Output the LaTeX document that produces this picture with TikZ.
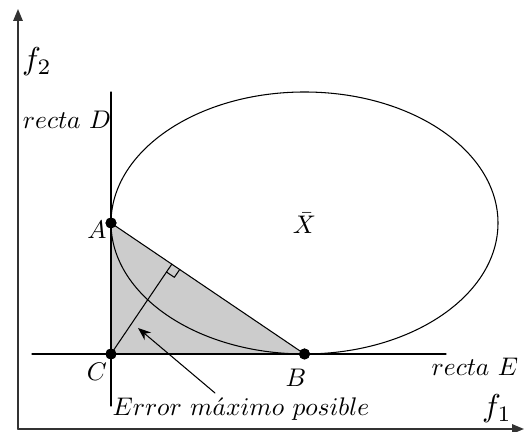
\documentclass[tikz,border=0pt]{standalone}
\usepackage{amsmath}
\usetikzlibrary{arrows.meta,calc,positioning}
\tikzset{
  every picture/.append style={line cap=round,line join=round},
  opt axis/.style={line width=0.9pt,black!80,-{Triangle[length=2.4mm,width=1.9mm]}},
  opt line/.style={line width=0.6pt},
  opt region/.style={fill=black!20},
  opt point/.style={circle,fill=black,inner sep=0pt,minimum size=2.2mm},
  opt arrow/.style={line width=0.6pt,-{Stealth[length=2.6mm,width=2mm]}},
  opt note/.style={font=\normalsize,scale=1.45,inner sep=1pt},
  opt axis note/.style={font=\normalsize,scale=1.8,inner sep=1pt}
}
\begin{document}
\begin{tikzpicture}
  \useasboundingbox (0,0) rectangle (10.5,8.64);
  % frame of the plot
  \coordinate (O) at (0.36,0.06);
  \coordinate (ytop) at (0.36,8.46);
  \coordinate (xend) at (10.48,0.06);
  \coordinate (dtop) at (2.22,6.80);
  \coordinate (dbot) at (2.22,0.52);
  \coordinate (eleft) at (0.64,1.56);
  \coordinate (eright) at (8.92,1.56);
  \coordinate (M) at (6.09,4.18);
  \node[opt point] (A) at (2.22,4.18) {};
  \node[opt point] (C) at (2.22,1.56) {};
  \node[opt point] (B) at (6.09,1.56) {};
  \coordinate (H) at ($(A.center)!(C.center)!(B.center)$);
  \coordinate (tip) at (2.76,2.08);
  % shaded error region
  \fill[opt region] (A.center) -- (C.center) -- (B.center) -- cycle;
  \draw[opt axis] (O) -- (ytop);
  \draw[opt axis] (O) -- (xend);
  \draw[opt line] (dtop) -- (dbot);
  \draw[opt line] (eleft) -- (eright);
  \draw[opt line] (M) ellipse [x radius=3.87,y radius=2.62];
  \draw[opt line] (A.center) -- (B.center);
  \draw[opt line] (C.center) -- (H);
  \draw[opt line] ($(H)!0.19cm!(B.center)$) -- ($(H)!0.19cm!(B.center)+(H)!0.19cm!(C.center)-(H)$) -- ($(H)!0.19cm!(C.center)$);
  \node[opt point] at (A) {};
  \node[opt point] at (C) {};
  \node[opt point] at (B) {};
  % labels
  \node[opt axis note] (f2) at (0.74,7.40) {$f_2$};
  \node[opt axis note] (f1) at (9.94,0.46) {$f_1$};
  \node[opt note] (rectaD) at (1.34,6.24) {$recta\ D$};
  \node[opt note] (rectaE) at (9.50,1.30) {$recta\ E$};
  \node[opt note] (labA) at (1.94,4.04) {$A$};
  \node[opt note] (labC) at (1.94,1.20) {$C$};
  \node[opt note] (labB) at (5.92,1.08) {$B$};
  \node[opt note] (xbar) at (M) {$\bar{X}$};
  \node[opt note] (err) at (4.82,0.46) {$Error\ m\acute{a}ximo\ posible$};
  \draw[opt arrow] (4.30,0.78) -- (tip);
\end{tikzpicture}
\end{document}
